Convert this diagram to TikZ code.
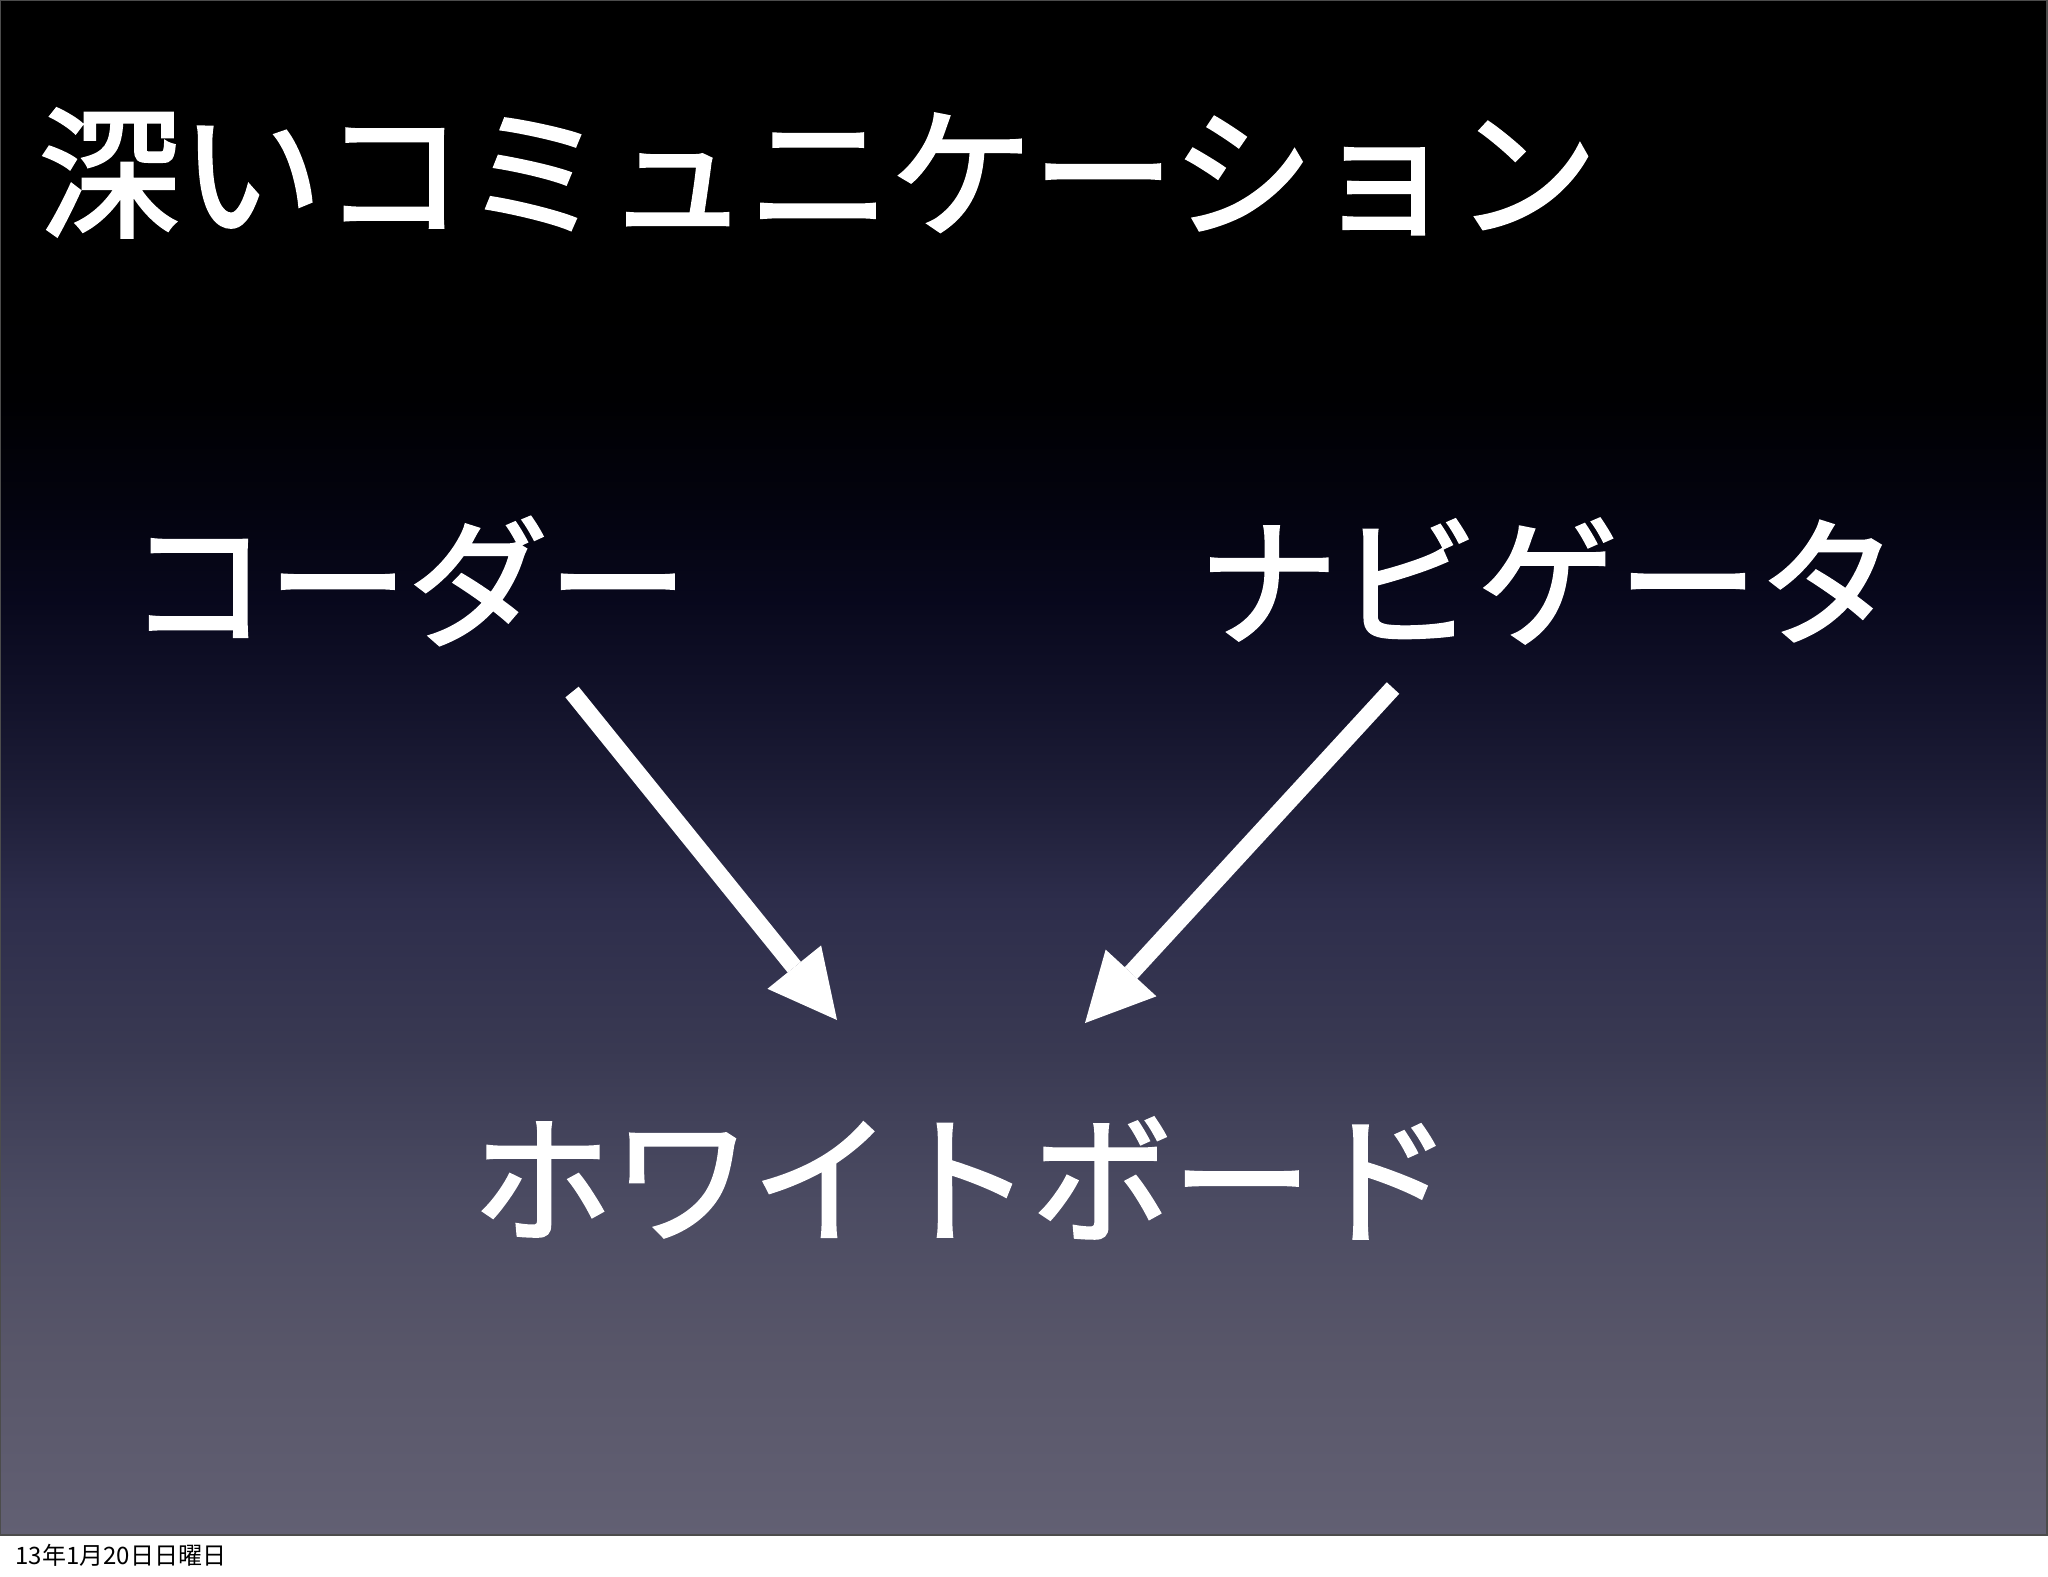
\documentclass[tikz,border=0pt]{standalone}
\usepackage{fontspec}
\setmainfont{Noto Sans CJK JP}
\newfontfamily\jpmed{Noto Sans CJK JP}[FakeBold=2]
\usetikzlibrary{arrows.meta}
\pgfdeclareverticalshading{slidebg}{100bp}{%
  rgb(0bp)=(0.384,0.376,0.451);
  rgb(25bp)=(0.384,0.376,0.451);
  rgb(31bp)=(0.345,0.337,0.412);
  rgb(35.9bp)=(0.294,0.294,0.384);
  rgb(40.8bp)=(0.224,0.224,0.322);
  rgb(45.7bp)=(0.176,0.176,0.294);
  rgb(48.9bp)=(0.118,0.118,0.220);
  rgb(52.2bp)=(0.071,0.071,0.165);
  rgb(55.5bp)=(0.031,0.031,0.110);
  rgb(58.7bp)=(0.012,0.012,0.055);
  rgb(62bp)=(0,0,0.008);
  rgb(65.2bp)=(0,0,0);
  rgb(100bp)=(0,0,0)}
\tikzset{
  bigtext/.style={text=white, inner sep=0pt, font=\jpmed\fontsize{70pt}{70pt}\selectfont},
  titletext/.style={bigtext, font=\jpmed\fontsize{71pt}{71pt}\selectfont},
  bigarrow/.style={draw=white, line width=8.5pt,
    -{Triangle[length=34pt,width=34.5pt,line width=0pt]}},
  footer/.style={text=black, inner sep=0pt, anchor=west, font=\fontsize{12pt}{12pt}\selectfont}
}
\begin{document}
\begin{tikzpicture}[x=0.5pt,y=-0.5pt]
\useasboundingbox (0,0) rectangle (2048,1576);
\fill[white] (0,0) rectangle (2048,1576);
\shade[shading=slidebg] (0,0) rectangle (2047,1535);
\draw[line width=1pt, draw=black!70] (0,0) rectangle (2047,1535);

\node[titletext] (title) at (818,173) {深いコミュニケーション};
\node[bigtext] (coder) at (408,581) {コーダー};
\node[bigtext] (navi) at (1548,581) {ナビゲータ};
\node[bigtext] (board) at (962,1178) {ホワイトボード};

\coordinate (cs) at (572,692);
\coordinate (ce) at (837,1020);
\coordinate (ns) at (1393,688);
\coordinate (ne) at (1085,1023);
\draw[bigarrow] (cs) -- (ce);
\draw[bigarrow] (ns) -- (ne);

\node[footer] (date) at (15,1555) {13年1月20日日曜日};
\end{tikzpicture}
\end{document}
